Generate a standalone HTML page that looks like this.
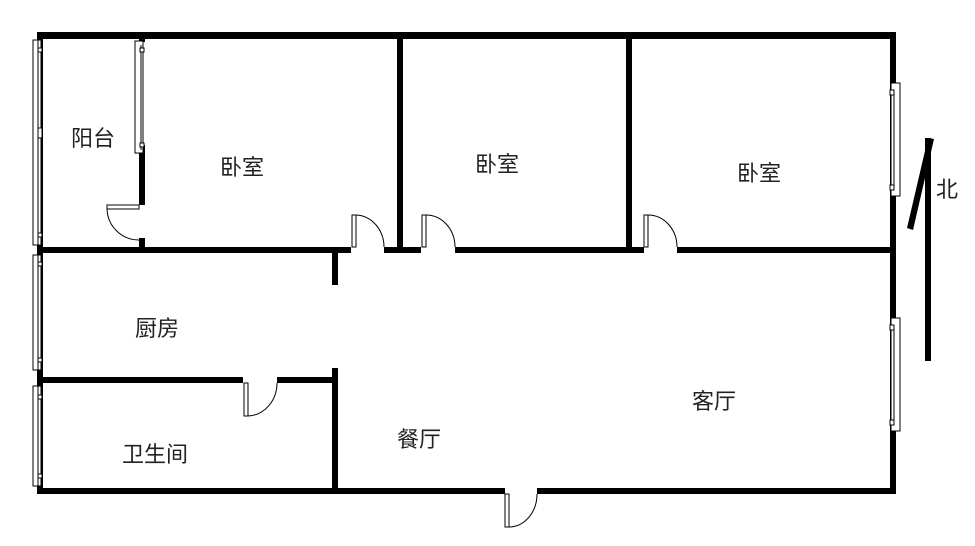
<!DOCTYPE html>
<html><head><meta charset="utf-8"><style>
html,body{margin:0;padding:0;background:#fff;}
svg{display:block;}
text{font-family:"Liberation Sans","Noto Sans CJK SC",sans-serif;font-size:22px;fill:#222;}
</style></head><body>
<svg width="975" height="546" viewBox="0 0 975 546" xmlns="http://www.w3.org/2000/svg">
<g fill="#000">
<rect x="37" y="32" width="859" height="7"/>
<rect x="37" y="488" width="468" height="6"/>
<rect x="537" y="488" width="359" height="6"/>
<rect x="37" y="32" width="6" height="462"/>
<rect x="890" y="32" width="6" height="462"/>
<rect x="37" y="247" width="314" height="6"/>
<rect x="384" y="247" width="37" height="6"/>
<rect x="455" y="247" width="189" height="6"/>
<rect x="677" y="247" width="219" height="6"/>
<rect x="397" y="32" width="6" height="221"/>
<rect x="626" y="32" width="6" height="221"/>
<rect x="139" y="32" width="6" height="10"/>
<rect x="139" y="145" width="6" height="60"/>
<rect x="139" y="238" width="6" height="15"/>
<rect x="332" y="253" width="6" height="32"/>
<rect x="37" y="377" width="206" height="6"/>
<rect x="277" y="377" width="61" height="6"/>
<rect x="332" y="368" width="6" height="126"/>
<rect x="925" y="138" width="6" height="223"/>
<polygon points="928,138 934,139 913,230 907,228"/>
</g>
<g fill="#fff" stroke="#000" stroke-width="1">
<rect x="33" y="40" width="8" height="205"/>
<line x1="38" y1="40" x2="38" y2="245"/>
<rect x="38" y="48" width="4" height="4"/><rect x="38" y="128" width="4" height="10"/><rect x="38" y="233" width="4" height="4"/>
<rect x="33" y="255" width="8" height="115"/>
<line x1="38" y1="255" x2="38" y2="370"/>
<rect x="38" y="262" width="4" height="4"/><rect x="38" y="358" width="4" height="4"/>
<rect x="33" y="386" width="8" height="100"/>
<line x1="38" y1="386" x2="38" y2="486"/>
<rect x="38" y="395" width="4" height="4"/><rect x="38" y="474" width="4" height="4"/>
<rect x="135" y="41" width="8" height="112"/>
<line x1="141" y1="45" x2="141" y2="150"/>
<rect x="140" y="48" width="4" height="4"/><rect x="140" y="143" width="4" height="4"/>
<rect x="891" y="83" width="9" height="113"/>
<line x1="894" y1="90" x2="894" y2="190"/>
<rect x="890" y="90" width="4" height="5"/><rect x="890" y="185" width="4" height="5"/>
<rect x="891" y="318" width="9" height="113"/>
<line x1="894" y1="325" x2="894" y2="425"/>
<rect x="890" y="325" width="4" height="5"/><rect x="890" y="420" width="4" height="5"/>
<rect x="352" y="215" width="4" height="32"/>
<rect x="422" y="215" width="4" height="32"/>
<rect x="644" y="215" width="4" height="32"/>
<rect x="107" y="205" width="32" height="4"/>
<rect x="244" y="383" width="4" height="33"/>
<rect x="505" y="494" width="4" height="33"/>
</g>
<g fill="none" stroke="#000" stroke-width="1">
<path d="M356,215 A29,32 0 0 1 384,247"/>
<path d="M426,215 A29,32 0 0 1 455,247"/>
<path d="M648,215 A29,32 0 0 1 677,247"/>
<path d="M107,209 A32,32 0 0 0 139,240"/>
<path d="M248,416 A30,33 0 0 0 277,383"/>
<path d="M509,527 A28,33 0 0 0 537,494"/>
</g>
<text x="71" y="146">阳台</text>
<text x="220" y="175">卧室</text>
<text x="475" y="172">卧室</text>
<text x="737" y="181">卧室</text>
<text x="135" y="336">厨房</text>
<text x="122" y="462">卫生间</text>
<text x="397" y="447">餐厅</text>
<text x="692" y="409">客厅</text>
<text x="936" y="197">北</text>
</svg>
</body></html>
